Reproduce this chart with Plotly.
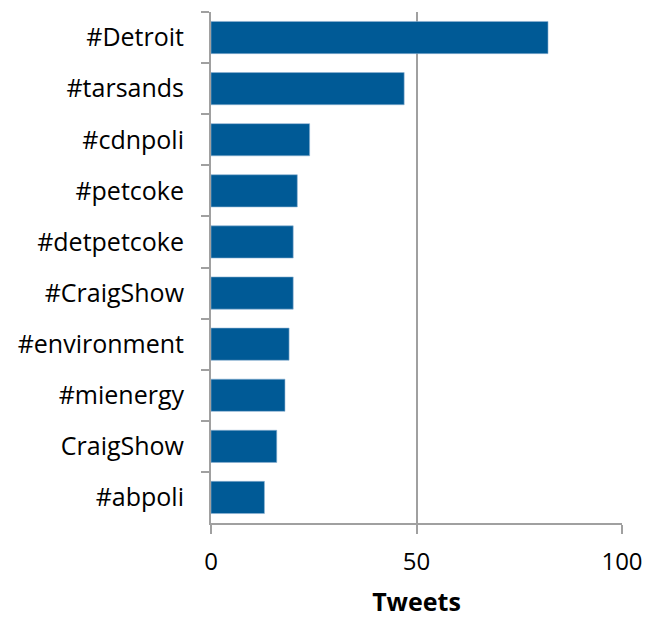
import plotly.graph_objects as go

# Hashtags ranked by tweet count (top of chart first)
hashtags = ["#Detroit", "#tarsands", "#cdnpoli", "#petcoke", "#detpetcoke",
            "#CraigShow", "#environment", "#mienergy", "CraigShow", "#abpoli"]
tweets = [82, 47, 24, 21, 20, 20, 19, 18, 16, 13]
x_ticks = [0, 50, 100]

FONT = "Open Sans"
AXIS_GREY = "#a0a0a0"

fig = go.Figure(
    go.Bar(
        x=tweets,
        y=hashtags,
        orientation="h",
        marker=dict(color="#005A96", line=dict(color="#8fb3d3", width=0.6)),
        width=0.63,
    )
)

fig.update_layout(
    width=657,
    height=618,
    margin=dict(l=211, r=35, t=12, b=95),
    paper_bgcolor="white",
    plot_bgcolor="white",
    showlegend=False,
    font=dict(family=FONT, size=25, color="#000000"),
)

fig.update_xaxes(
    range=[0, 100],
    tickvals=x_ticks,
    ticktext=[str(v) for v in x_ticks],
    showgrid=True,
    gridcolor=AXIS_GREY,
    gridwidth=1.5,
    zeroline=False,
    showline=True,
    linecolor=AXIS_GREY,
    linewidth=2,
    ticks="outside",
    ticklen=9,
    tickwidth=2,
    tickcolor=AXIS_GREY,
    ticklabelstandoff=7,
    tickfont=dict(family=FONT, size=24),
    automargin=False,
    title=dict(text="<b>Tweets</b>", font=dict(family=FONT, size=25), standoff=19),
)

fig.update_yaxes(
    type="category",
    categoryorder="array",
    categoryarray=hashtags,
    autorange="reversed",
    showgrid=False,
    showline=True,
    linecolor=AXIS_GREY,
    linewidth=2,
    ticks="outside",
    tickson="boundaries",
    ticklen=8,
    tickwidth=2,
    tickcolor=AXIS_GREY,
    ticklabelstandoff=20,
    automargin=False,
    tickfont=dict(family=FONT, size=25),
)

fig.write_html("out.html")
